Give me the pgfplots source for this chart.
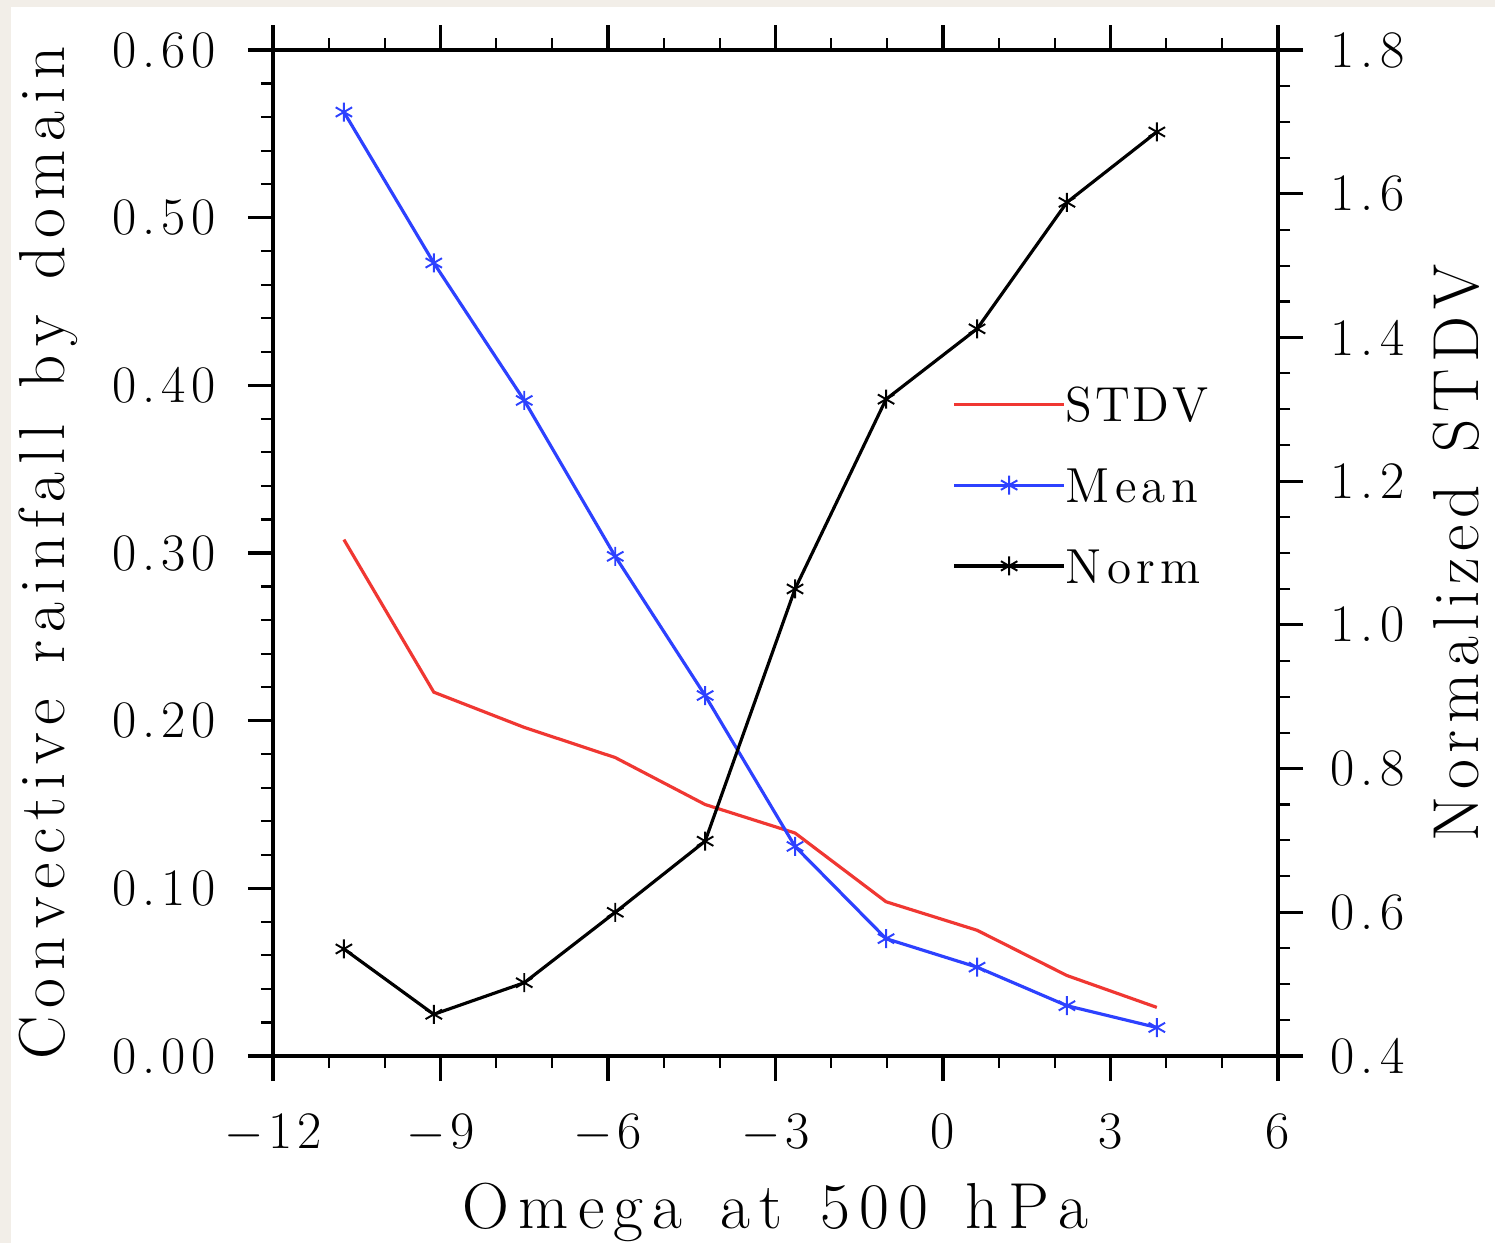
\documentclass[border=0pt]{standalone}
\usepackage{fontspec}
\usepackage{pgfplots}
\pgfplotsset{compat=1.18}
\definecolor{bgbeige}{RGB}{242,238,232}
\definecolor{ncred}{RGB}{240,55,50}
\definecolor{ncblue}{RGB}{45,65,255}
\makeatletter
\newcommand\spaced[2]{\@tfor\sp@t:=#2\do{\sp@t\kern#1}\kern-#1}
\makeatother
\newcommand\ny[1]{\spaced{1.6pt}{#1}}
\newcommand\nr[1]{\spaced{1.8pt}{#1}}
\newcommand\nx[1]{\spaced{1.3pt}{#1}}
\newcommand\mx[1]{$-$\kern1.3pt\spaced{1.3pt}{#1}}
\pgfplotstableread{
x stdv mean norm
-10.73 0.308 0.563 0.549
-9.12 0.217 0.473 0.458
-7.50 0.196 0.391 0.502
-5.87 0.178 0.298 0.600
-4.26 0.150 0.215 0.699
-2.65 0.133 0.125 1.050
-1.02 0.092 0.070 1.314
0.61 0.075 0.053 1.412
2.22 0.048 0.030 1.588
3.83 0.029 0.017 1.686
}\datatable
\begin{document}
\begin{tikzpicture}
\useasboundingbox (-2.73,-1.87) rectangle (12.22,10.56);
\fill[bgbeige] (-2.73,-1.87) rectangle (12.22,10.56);
\fill[white] (-2.62,-1.87) rectangle (12.22,10.49);
\pgfplotsset{
  common/.style={
    scale only axis, width=10.05cm, height=10.06cm,
    at={(0,0)}, anchor=south west,
    xmin=-12, xmax=6,
    tick align=outside,
    major tick length=0.25cm, minor tick length=0.12cm,
    every tick/.style={black, line width=0.9pt},
    minor tick style={line width=0.6pt},
    axis line style={line width=1.1pt},
    tick label style={font=\fontsize{15}{18}\selectfont},
  },
  mk/.style={mark=asterisk, mark size=2.7pt, mark options={line width=0.55pt}},
}
\begin{axis}[common,
  ymin=0, ymax=0.6,
  xtick={-12,-9,...,6}, minor x tick num=2,
  xticklabels={\mx{12},\mx{9},\mx{6},\mx{3},\nx{0},\nx{3},\nx{6}},
  ytick={0,0.1,...,0.6}, minor y tick num=4,
  yticklabels={\ny{0.00},\ny{0.10},\ny{0.20},\ny{0.30},\ny{0.40},\ny{0.50},\ny{0.60}},
  ytick pos=left,
  yticklabel style={xshift=-0.2cm},
  xticklabel style={yshift=-0.2cm},
  xlabel={\spaced{2.6pt}{Omega~at~500~hPa}},
  every axis x label/.style={at={(axis description cs:0.5,0)}, anchor=base, yshift=-1.72cm, font=\fontsize{18.5}{22}\selectfont},
  ylabel={\spaced{2.3pt}{Convective~rainfall~by~domain}},
  every axis y label/.style={at={(axis description cs:0,0.5)}, xshift=-2.08cm, rotate=90, anchor=base, font=\fontsize{18.5}{22}\selectfont},
]
\addplot[ncred, line width=0.9pt, no markers] table[x=x, y=stdv] {\datatable};
\addplot[ncblue, line width=0.9pt, mk] table[x=x, y=mean] {\datatable};
\end{axis}
\begin{axis}[common,
  ymin=0.4, ymax=1.8,
  axis x line=none, axis y line*=right,
  ytick={0.4,0.6,...,1.8}, minor y tick num=3,
  yticklabels={\nr{0.4},\nr{0.6},\nr{0.8},\nr{1.0},\nr{1.2},\nr{1.4},\nr{1.6},\nr{1.8}},
  yticklabel style={xshift=0.15cm},
  ylabel={\spaced{1.9pt}{Normalized~STDV}},
  every axis y label/.style={at={(axis description cs:1,0.5)}, xshift=2.0cm, rotate=90, anchor=base, inner sep=0pt, font=\fontsize{18.5}{22}\selectfont},
  legend style={draw=none, fill=none, at={(0.665,0.68)}, anchor=north west,
    font=\fontsize{14}{17}\selectfont, row sep=9pt,
    nodes={text height=10pt, text depth=0pt, inner ysep=2pt, inner xsep=0pt}},
  legend cell align=left,
  legend image code/.code={\draw[mark repeat=2, mark phase=2, #1] plot coordinates {(0cm,0cm) (0.55cm,0cm) (1.1cm,0cm)};},
]
\addlegendimage{ncred, line width=0.9pt, no markers}
\addlegendentry{\spaced{0.8pt}{STDV}}
\addlegendimage{ncblue, line width=0.9pt, mk}
\addlegendentry{\spaced{1.5pt}{Mean}}
\addplot[black, line width=0.9pt, mk] table[x=x, y=norm] {\datatable};
\addlegendentry{\spaced{1.5pt}{Norm}}
\end{axis}
\end{tikzpicture}
\end{document}
